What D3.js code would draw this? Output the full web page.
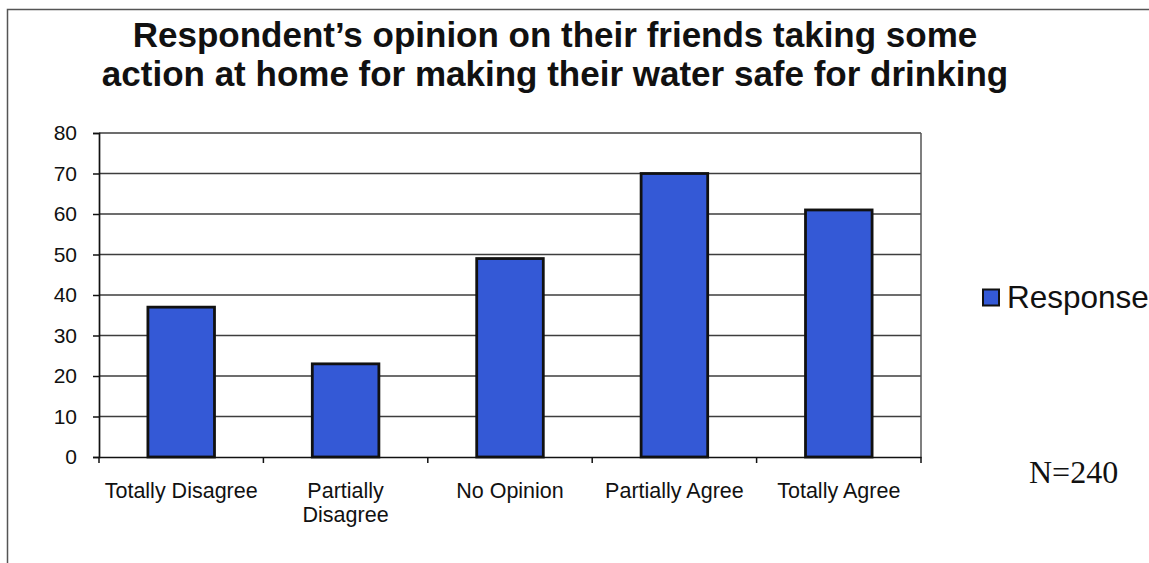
<!DOCTYPE html>
<html>
<head>
<meta charset="utf-8">
<script src="https://cdn.jsdelivr.net/npm/d3@7/dist/d3.min.js"></script>
<style>
  html, body { margin: 0; padding: 0; background: #fff; }
  svg { display: block; }
</style>
</head>
<body>
<svg id="chart" width="1149" height="563"></svg>
<script>
const titleLines = ["Respondent\u2019s opinion on their friends taking some",
                    "action at home for making their water safe for drinking"];
const categories = [["Totally Disagree"], ["Partially", "Disagree"], ["No Opinion"], ["Partially Agree"], ["Totally Agree"]];
const categoryKeys = ["Totally Disagree", "Partially Disagree", "No Opinion", "Partially Agree", "Totally Agree"];
const responseValues = [37, 23, 49, 70, 61];
const yTicks = [0, 10, 20, 30, 40, 50, 60, 70, 80];
const seriesName = "Response";
const noteText = "N=240";

const W = 1149, H = 563;
const plot = {left: 99, right: 921, top: 133, bottom: 457};
const svg = d3.select("#chart");
const barColor = "#3459d6";
const sans = "'Liberation Sans', Arial, sans-serif";

// outer frame
svg.append("path")
  .attr("d", `M7.5,${H} L7.5,9.5 L${W},9.5`)
  .attr("fill", "none").attr("stroke", "#555").attr("stroke-width", 1.5);

// title
svg.append("text")
  .attr("x", 555).attr("y", 47)
  .attr("text-anchor", "middle")
  .style("font-family", sans)
  .style("font-weight", "bold").style("font-size", "35px").style("fill", "#111")
  .selectAll("tspan").data(titleLines).join("tspan")
  .attr("x", 555).attr("dy", (d, i) => i === 0 ? 0 : 39)
  .text(d => d);

const x = d3.scaleBand().domain(categoryKeys).range([plot.left, plot.right]).padding(0);
const y = d3.scaleLinear().domain([0, 80]).range([plot.bottom, plot.top]);

// gridlines
svg.append("g").selectAll("line").data(yTicks.filter(d => d > 0)).join("line")
  .attr("x1", plot.left).attr("x2", plot.right)
  .attr("y1", d => y(d)).attr("y2", d => y(d))
  .attr("stroke", "#3d3d3d").attr("stroke-width", 1.5);

// right border of plot area
svg.append("line")
  .attr("x1", plot.right).attr("x2", plot.right)
  .attr("y1", plot.top).attr("y2", plot.bottom)
  .attr("stroke", "#555").attr("stroke-width", 1.5);

// bars
const barW = x.bandwidth() * 0.405;
svg.append("g").selectAll("rect").data(responseValues).join("rect")
  .attr("x", (d, i) => x(categoryKeys[i]) + x.bandwidth() / 2 - barW / 2)
  .attr("y", d => y(d))
  .attr("width", barW)
  .attr("height", d => y(0) - y(d))
  .attr("fill", barColor)
  .attr("stroke", "#111").attr("stroke-width", 2.8);

// y axis
const yAxis = d3.axisLeft(y).tickValues(yTicks).tickSize(6).tickPadding(16);
const gy = svg.append("g").attr("transform", `translate(${plot.left},0)`).call(yAxis);
gy.select(".domain").attr("stroke", "#111").attr("stroke-width", 1.7);
gy.selectAll(".tick line").attr("stroke", "#111").attr("stroke-width", 1.5);
gy.selectAll(".tick text")
  .style("font-family", sans)
  .style("font-size", "21px").style("fill", "#111");

// x axis
const xAxis = d3.axisBottom(x).tickSize(0).tickFormat("");
const gx = svg.append("g").attr("transform", `translate(0,${plot.bottom})`).call(xAxis);
gx.select(".domain").attr("stroke", "#111").attr("stroke-width", 1.7);
const boundaries = categoryKeys.map(k => x(k)).concat([plot.right]);
svg.append("g").selectAll("line").data(boundaries).join("line")
  .attr("x1", d => d).attr("x2", d => d)
  .attr("y1", plot.bottom).attr("y2", plot.bottom + 6)
  .attr("stroke", "#111").attr("stroke-width", 1.5);

// category labels
svg.append("g").selectAll("text").data(categories).join("text")
  .attr("x", (d, i) => x(categoryKeys[i]) + x.bandwidth() / 2)
  .attr("y", 498)
  .attr("text-anchor", "middle")
  .style("font-family", sans)
  .style("font-size", "21.5px").style("fill", "#111")
  .each(function(d, i) {
    const cx = x(categoryKeys[i]) + x.bandwidth() / 2;
    d3.select(this).selectAll("tspan").data(d).join("tspan")
      .attr("x", cx).attr("dy", (t, j) => j === 0 ? 0 : 24).text(t => t);
  });

// legend
svg.append("rect")
  .attr("x", 983).attr("y", 289.5).attr("width", 16).attr("height", 16)
  .attr("fill", barColor).attr("stroke", "#111").attr("stroke-width", 2);
svg.append("text")
  .attr("x", 1007).attr("y", 307.5)
  .style("font-family", sans)
  .style("font-size", "31.5px").style("fill", "#111")
  .text(seriesName);

// note
svg.append("text")
  .attr("x", 1029).attr("y", 482.5)
  .style("font-family", "'Liberation Serif', 'Times New Roman', serif")
  .style("font-size", "32px").style("fill", "#111")
  .text(noteText);
</script>
</body>
</html>
